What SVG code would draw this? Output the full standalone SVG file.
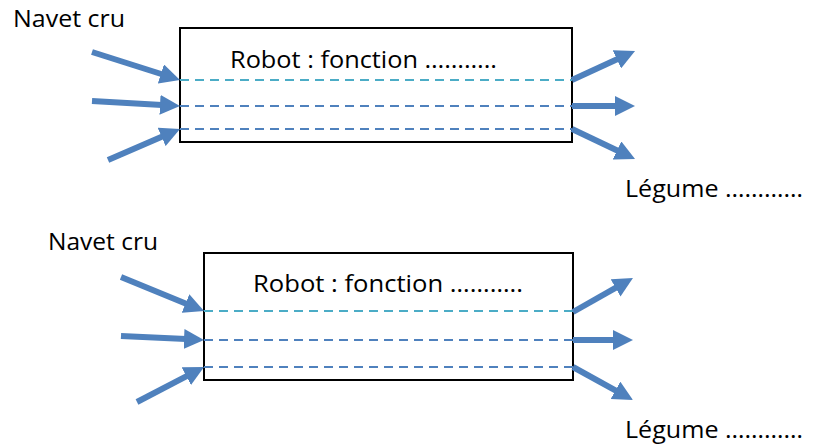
<svg xmlns="http://www.w3.org/2000/svg" width="816" height="445" viewBox="0 0 816 445">
<style>
.box{fill:#fff;stroke:#000;stroke-width:2}
.lbl{font-family:"Open Sans","Liberation Sans",Arial,sans-serif;font-size:23px;fill:#000}
.arr{stroke:#4F81BD;stroke-width:6;fill:none;marker-end:url(#ah)}
.dc{stroke:#4BACC6;stroke-width:2;stroke-dasharray:9 6;fill:none}
.db{stroke:#4F81BD;stroke-width:2;stroke-dasharray:9 6;fill:none}
</style>
<defs>
<marker id="ah" markerUnits="userSpaceOnUse" markerWidth="20" markerHeight="20" viewBox="0 0 20 20" refX="2" refY="10" orient="auto">
<path d="M0,0 L20,10 L0,20 z" fill="#4F81BD"/>
</marker>
</defs>
<rect width="816" height="445" fill="#fff"/>
<g id="robot1">
<rect class="box" x="180" y="28" width="392" height="114"/>
<text class="lbl" x="230" y="68" textLength="267" lengthAdjust="spacingAndGlyphs">Robot : fonction ………..</text>
</g>
<g id="robot2">
<rect class="box" x="204" y="253" width="369" height="127"/>
<text class="lbl" x="253" y="292" textLength="270" lengthAdjust="spacingAndGlyphs">Robot : fonction ………..</text>
</g>
<g id="labels">
<text class="lbl" x="13" y="27" textLength="112" lengthAdjust="spacingAndGlyphs">Navet cru</text>
<text class="lbl" x="625" y="197" textLength="178" lengthAdjust="spacingAndGlyphs">Légume …………</text>
<text class="lbl" x="48" y="250" textLength="110" lengthAdjust="spacingAndGlyphs">Navet cru</text>
<text class="lbl" x="625" y="438" textLength="178" lengthAdjust="spacingAndGlyphs">Légume …………</text>
</g>
<g id="connectors">
<line class="dc" x1="180" y1="80" x2="572" y2="80"/>
<line class="db" x1="180" y1="106" x2="572" y2="106"/>
<line class="db" x1="180" y1="129" x2="572" y2="129"/>
<line class="dc" x1="204" y1="311" x2="573" y2="311"/>
<line class="db" x1="204" y1="340" x2="573" y2="340"/>
<line class="db" x1="204" y1="367" x2="573" y2="367"/>
<line class="arr" x1="92" y1="52" x2="162.8" y2="74.5"/>
<line class="arr" x1="92" y1="101" x2="162" y2="105"/>
<line class="arr" x1="108" y1="160" x2="163.5" y2="136.1"/>
<line class="arr" x1="572" y1="80" x2="618.7" y2="58.5"/>
<line class="arr" x1="572" y1="106" x2="617" y2="106"/>
<line class="arr" x1="572" y1="129" x2="618.8" y2="151.3"/>
<line class="arr" x1="121" y1="277" x2="187.4" y2="304.2"/>
<line class="arr" x1="121" y1="336" x2="186" y2="339.1"/>
<line class="arr" x1="137" y1="402" x2="188.1" y2="375.3"/>
<line class="arr" x1="573" y1="312" x2="617.3" y2="286.9"/>
<line class="arr" x1="573" y1="340" x2="615" y2="340"/>
<line class="arr" x1="573" y1="367" x2="617.2" y2="391.3"/>
</g>
</svg>
